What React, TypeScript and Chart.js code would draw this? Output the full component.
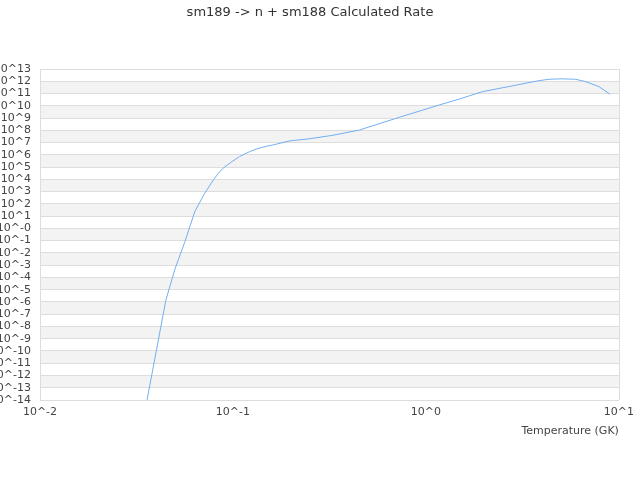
import React, { useEffect, useRef } from "react";
import { Chart, registerables } from "chart.js";

Chart.register(...registerables);

const titleText = "sm189 -> n + sm188 Calculated Rate";
const xAxisTitle = "Temperature (GK)";

// Temperature (GK)
const temperatures = [
  0.0316, 0.0449, 0.0501, 0.0562, 0.0634, 0.0713, 0.0794, 0.0841, 0.0887,
  0.0944, 0.1, 0.108, 0.115, 0.123, 0.132, 0.141, 0.151, 0.161, 0.196, 0.249,
  0.329, 0.452, 0.728, 1.17, 1.49, 1.96, 2.82, 3.85, 4.35, 5.01, 5.97, 6.73,
  7.89, 9.0,
];

// Calculated rate
const rates = [
  2.5e-19, 1.4e-6, 5.0e-4, 7.2e-2, 22.9, 724, 9.5e3, 3.2e4, 7.9e4, 1.66e5,
  3.16e5, 7.1e5, 1.17e6, 1.9e6, 2.95e6, 3.98e6, 5.25e6, 6.3e6, 1.35e7, 2.04e7,
  3.9e7, 1.05e8, 1.15e9, 1.15e10, 3.55e10, 1.41e11, 4.27e11, 1.12e12, 1.45e12,
  1.58e12, 1.45e12, 9.3e11, 3.6e11, 8.7e10,
];

const xExponents = [-2, -1, 0, 1];
const xTickLabels = ["10^-2", "10^-1", "10^0", "10^1"];

const yExponents = [
  -14, -13, -12, -11, -10, -9, -8, -7, -6, -5, -4, -3, -2, -1, 0, 1, 2, 3, 4,
  5, 6, 7, 8, 9, 10, 11, 12, 13,
];
const yTickLabels = [
  "10^-14", "10^-13", "10^-12", "10^-11", "10^-10", "10^-9", "10^-8", "10^-7",
  "10^-6", "10^-5", "10^-4", "10^-3", "10^-2", "10^-1", "10^-0", "10^1",
  "10^2", "10^3", "10^4", "10^5", "10^6", "10^7", "10^8", "10^9", "10^10",
  "10^11", "10^12", "10^13",
];

const bandsPlugin = {
  id: "bands",
  beforeDraw(chart: any) {
    const { ctx, chartArea, scales } = chart;
    const y = scales.y;
    ctx.save();
    ctx.fillStyle = "#f3f3f3";
    for (let i = 0; i < yExponents.length - 1; i++) {
      const upper = yExponents[i + 1];
      if (upper % 2 === 0) {
        const top = y.getPixelForValue(Math.pow(10, upper));
        const bottom = y.getPixelForValue(Math.pow(10, yExponents[i]));
        ctx.fillRect(chartArea.left, top, chartArea.right - chartArea.left, bottom - top);
      }
    }
    ctx.restore();
  },
  beforeDatasetsDraw(chart: any) {
    const { ctx, chartArea } = chart;
    ctx.save();
    ctx.strokeStyle = "#dddddd";
    ctx.lineWidth = 1;
    ctx.beginPath();
    ctx.moveTo(Math.round(chartArea.right) + 0.5, chartArea.top);
    ctx.lineTo(Math.round(chartArea.right) + 0.5, chartArea.bottom);
    ctx.stroke();
    ctx.restore();
  },
};

export default function App() {
  const canvasRef = useRef<HTMLCanvasElement | null>(null);

  useEffect(() => {
    if (!canvasRef.current) return;
    const points = temperatures.map((t, i) => ({ x: t, y: rates[i] }));
    const chart = new Chart(canvasRef.current, {
      type: "line",
      data: {
        datasets: [
          {
            data: points,
            borderColor: "#74aef2",
            borderWidth: 1,
            pointRadius: 0,
            fill: false,
            tension: 0,
          },
        ],
      },
      plugins: [bandsPlugin],
      options: {
        animation: false,
        responsive: false,
        devicePixelRatio: 1,
        layout: { padding: { left: 0, right: 20, top: 0, bottom: 0 } },
        plugins: {
          legend: { display: false },
          tooltip: { enabled: false },
          title: {
            display: true,
            text: titleText,
            color: "#333333",
            font: { family: "DejaVu Sans", size: 13, weight: "normal" },
            padding: { top: 5, bottom: 48.4 },
          },
        },
        scales: {
          x: {
            type: "logarithmic",
            min: Math.pow(10, xExponents[0]),
            max: Math.pow(10, xExponents[xExponents.length - 1]),
            afterBuildTicks: (scale: any) => {
              scale.ticks = xExponents.map((e) => ({ value: Math.pow(10, e) }));
            },
            afterFit: (scale: any) => {
              scale.height = 80;
            },
            grid: { display: false, drawTicks: false },
            border: { display: true, color: "#dddddd" },
            ticks: {
              color: "#444444",
              font: { family: "DejaVu Sans", size: 11 },
              padding: 6,
              maxRotation: 0,
              autoSkip: false,
              callback: (_v: any, i: number) => xTickLabels[i],
            },
            title: {
              display: true,
              text: xAxisTitle,
              align: "end",
              color: "#444444",
              font: { family: "DejaVu Sans", size: 11 },
              padding: { top: 0, bottom: 42.4 },
            },
          },
          y: {
            type: "logarithmic",
            min: Math.pow(10, yExponents[0]),
            max: Math.pow(10, yExponents[yExponents.length - 1]),
            afterBuildTicks: (scale: any) => {
              scale.ticks = yExponents.map((e) => ({ value: Math.pow(10, e) }));
            },
            afterFit: (scale: any) => {
              scale.width = 40;
            },
            grid: { color: "#dddddd", lineWidth: 1, drawTicks: false },
            border: { display: true, color: "#dddddd" },
            ticks: {
              color: "#444444",
              font: { family: "DejaVu Sans", size: 11 },
              padding: 9,
              autoSkip: false,
              callback: (_v: any, i: number) => yTickLabels[i],
            },
          },
        },
      },
    });
    return () => chart.destroy();
  }, []);

  return (
    <div style={{ position: "absolute", left: 0, top: 0, width: 640, height: 480, background: "#ffffff" }}>
      <canvas ref={canvasRef} width={640} height={480} />
    </div>
  );
}
